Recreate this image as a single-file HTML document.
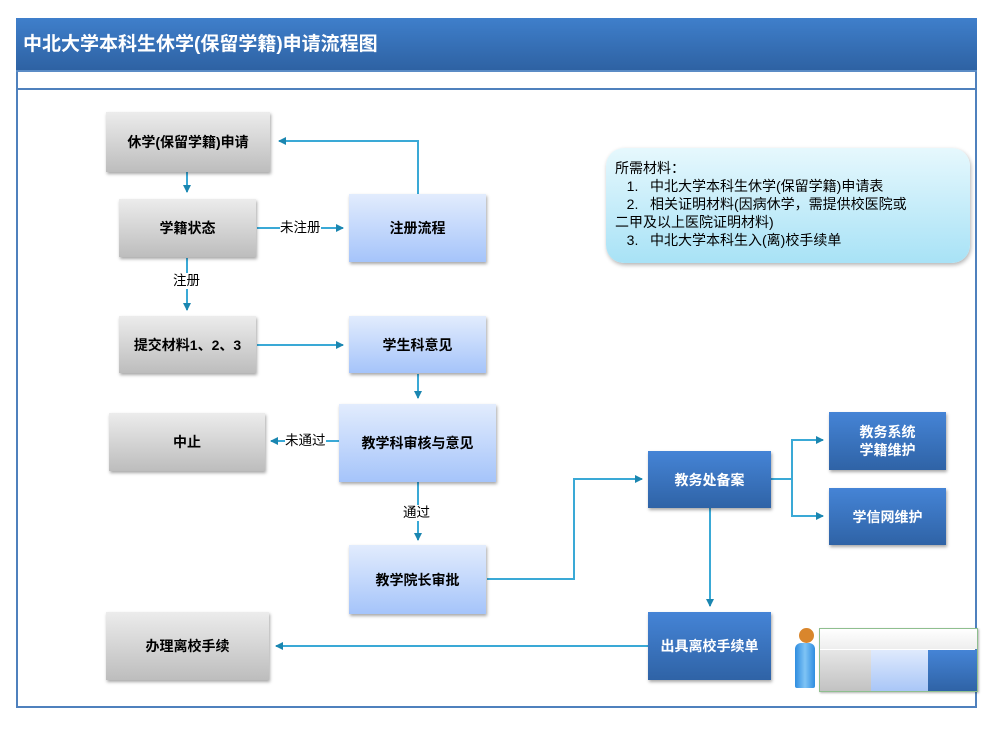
<!DOCTYPE html>
<html><head><meta charset="utf-8">
<style>
body{margin:0;background:#fff;width:1002px;height:730px;overflow:hidden;font-family:"Liberation Sans","Noto Sans CJK SC",sans-serif;position:relative}
.title{position:absolute;left:16px;top:18px;width:961px;height:54px;background:linear-gradient(#3f7fcb,#2e62a3);color:#fff;font-size:19px;font-weight:bold;line-height:54px;box-sizing:border-box;padding-left:7px;border-bottom:2px solid #5b8cc6}
.frame{position:absolute;left:16px;top:72px;width:961px;height:636px;border:2px solid #4f81bd;border-top:none;box-sizing:border-box}
.hl{position:absolute;left:16px;top:88px;width:961px;height:2px;background:#4f81bd}
.b{position:absolute;display:flex;align-items:center;justify-content:center;font-size:14px;font-weight:bold;text-align:center;box-shadow:1px 2px 3px rgba(0,0,0,.35);line-height:18px}
.g{background:linear-gradient(#ececec,#bdbdbd);color:#000}
.l{background:linear-gradient(#e2ecfd,#a5c4fa);color:#000}
.d{background:linear-gradient(#4584d6,#2f63a6);color:#fff}
.note{position:absolute;left:606px;top:148px;width:364px;height:115px;border-radius:18px;background:linear-gradient(#e6f8fd,#a8e2f6);box-shadow:1px 2px 4px rgba(0,0,0,.3);font-size:14px;line-height:18px;box-sizing:border-box;padding:11px 0 0 9px}
svg{position:absolute;left:0;top:0}
.lb{position:absolute;font-size:13.5px;background:#fff;line-height:16px}
</style></head><body>
<div class="title">中北大学本科生休学(保留学籍)申请流程图</div>
<div class="frame"></div>
<div class="hl"></div>
<svg width="1002" height="730">
<defs><marker id="a" markerWidth="8" markerHeight="8" refX="7" refY="4" orient="auto" markerUnits="userSpaceOnUse"><path d="M0,0L8,4L0,8z" fill="#1b86b0"/></marker></defs>
<g stroke="#3aa9d6" stroke-width="2" fill="none" marker-end="url(#a)">
<path d="M187,172V192"/>
<path d="M418,194V141H279"/>
<path d="M257,228H343"/>
<path d="M187,258V310"/>
<path d="M257,345H343"/>
<path d="M418,374V398"/>
<path d="M339,441H271"/>
<path d="M418,482V540"/>
<path d="M487,579H574V479H642"/>
<path d="M771,479H792V440H823"/>
<path d="M792,479V516H823"/>
<path d="M710,508V606"/>
<path d="M648,646H276"/>
</g>
</svg>
<div class="lb" style="left:280px;top:220px">未注册</div>
<div class="lb" style="left:173px;top:273px">注册</div>
<div class="lb" style="left:285px;top:433px">未通过</div>
<div class="lb" style="left:403px;top:505px">通过</div>
<div class="b g" style="left:106px;top:112px;width:164px;height:60px">休学(保留学籍)申请</div>
<div class="b g" style="left:119px;top:199px;width:137px;height:58px">学籍状态</div>
<div class="b l" style="left:349px;top:194px;width:137px;height:68px">注册流程</div>
<div class="b g" style="left:119px;top:316px;width:137px;height:57px">提交材料1、2、3</div>
<div class="b l" style="left:349px;top:316px;width:137px;height:57px">学生科意见</div>
<div class="b g" style="left:109px;top:413px;width:156px;height:58px">中止</div>
<div class="b l" style="left:339px;top:404px;width:157px;height:78px">教学科审核与意见</div>
<div class="b l" style="left:349px;top:545px;width:137px;height:69px">教学院长审批</div>
<div class="b g" style="left:106px;top:612px;width:163px;height:68px">办理离校手续</div>
<div class="b d" style="left:648px;top:451px;width:123px;height:57px">教务处备案</div>
<div class="b d" style="left:829px;top:412px;width:117px;height:58px">教务系统<br>学籍维护</div>
<div class="b d" style="left:829px;top:488px;width:117px;height:57px">学信网维护</div>
<div class="b d" style="left:648px;top:612px;width:123px;height:68px">出具离校手续单</div>
<div class="note">所需材料：<br>&nbsp;&nbsp;&nbsp;1.&nbsp;&nbsp; 中北大学本科生休学(保留学籍)申请表<br>&nbsp;&nbsp;&nbsp;2.&nbsp;&nbsp; 相关证明材料(因病休学，需提供校医院或<br>二甲及以上医院证明材料)<br>&nbsp;&nbsp;&nbsp;3.&nbsp;&nbsp; 中北大学本科生入(离)校手续单</div>
<div style="position:absolute;left:799px;top:628px;width:15px;height:15px;border-radius:50%;background:#d9862c"></div>
<div style="position:absolute;left:795px;top:643px;width:20px;height:45px;border-radius:6px 6px 2px 2px;background:linear-gradient(90deg,#2f8de0,#7fc4f5,#2f8de0)"></div>
<div style="position:absolute;left:819px;top:628px;width:157px;height:62px;border:1px solid #8fbf8f;box-shadow:1px 1px 2px rgba(0,0,0,.3)">
<div style="height:20px;background:linear-gradient(#fff,#eee)"></div>
<div style="position:absolute;left:0;top:21px;width:51px;height:41px;background:linear-gradient(#e6e6e6,#c2c2c2)"></div>
<div style="position:absolute;left:51px;top:21px;width:57px;height:41px;background:linear-gradient(#dfeafd,#a9c6f7)"></div>
<div style="position:absolute;left:108px;top:21px;width:49px;height:41px;background:linear-gradient(#4584d6,#2f63a6)"></div>
</div>
</body></html>
